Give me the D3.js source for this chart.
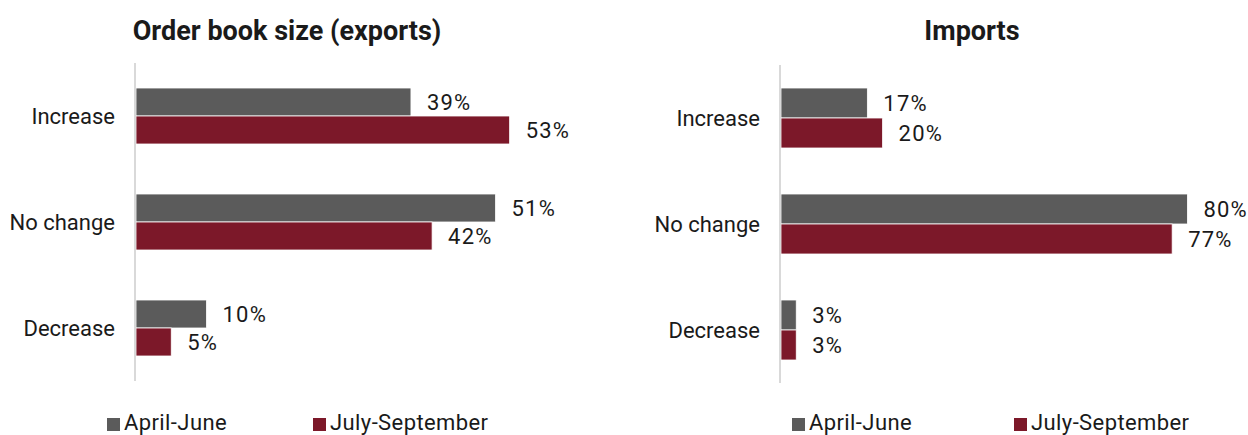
<!DOCTYPE html>
<html>
<head>
<meta charset="utf-8">
<script src="https://cdn.jsdelivr.net/npm/d3@7"></script>
<style>
  body { margin: 0; background: #fff; }
  text { font-family: Roboto, "Liberation Sans", sans-serif; fill: #1a1a1a; }
</style>
</head>
<body>
<div id="chart"></div>
<script>
// data
var categories = ["Increase", "No change", "Decrease"];
var seriesNames = ["April-June", "July-September"];
var exportsAprJun = [39, 51, 10];
var exportsJulSep = [53, 42, 5];
var importsAprJun = [17, 80, 3];
var importsJulSep = [20, 77, 3];

var colors = ["#5b5b5b", "#7c1829"];

var svgWidth = 1248;
var svgHeight = 435;

var $svg = d3
  .select("#chart")
  .append("svg")
  .attr("width", svgWidth)
  .attr("height", svgHeight);

// panel layout
var panels = [
  {
    title: "Order book size (exports)",
    titleX: 287,
    values: [exportsAprJun, exportsJulSep],
    x0: 136, pxPerPct: 7.05,
    yTop: 63, yBottom: 381,
    barH: 28,
    legendX: [107, 313]
  },
  {
    title: "Imports",
    titleX: 972,
    values: [importsAprJun, importsJulSep],
    x0: 781, pxPerPct: 5.08,
    yTop: 65, yBottom: 383,
    barH: 30,
    legendX: [792, 1014]
  }
];

panels.forEach(function(p) {
  var g = $svg.append("g");

  var x = d3.scaleLinear()
    .domain([0, 100])
    .range([p.x0, p.x0 + p.pxPerPct * 100]);

  var y = d3.scaleBand()
    .domain(categories)
    .range([p.yTop, p.yBottom]);

  var ySeries = d3.scaleBand()
    .domain(seriesNames)
    .range([0, p.barH * 2]);

  // title
  g.append("text")
    .attr("x", p.titleX)
    .attr("y", 40)
    .attr("text-anchor", "middle")
    .attr("font-size", "27px")
    .attr("font-weight", "bold")
    .attr("fill", "#262626")
    .text(p.title);

  // category labels
  g.selectAll("text.cat")
    .data(categories)
    .enter()
    .append("text")
    .classed("cat", true)
    .attr("x", p.x0 - 21)
    .attr("y", d => y(d) + y.bandwidth() / 2 + 8)
    .attr("text-anchor", "end")
    .attr("font-size", "22px")
    .text(d => d);

  // bars + value labels per series
  seriesNames.forEach(function(s, si) {
    var rows = categories.map(function(c, ci) {
      return { cat: c, value: p.values[si][ci] };
    });
    var offset = y.bandwidth() / 2 - p.barH + ySeries(s);

    g.selectAll("rect.s" + si)
      .data(rows)
      .enter()
      .append("rect")
      .classed("s" + si, true)
      .attr("x", x(0))
      .attr("y", d => y(d.cat) + offset)
      .attr("width", d => x(d.value) - x(0))
      .attr("height", ySeries.bandwidth())
      .attr("fill", colors[si])
      .attr("stroke", "#ffffff")
      .attr("stroke-width", 0.8);

    g.selectAll("text.v" + si)
      .data(rows)
      .enter()
      .append("text")
      .classed("v" + si, true)
      .attr("x", d => x(d.value) + 16)
      .attr("y", d => y(d.cat) + offset + ySeries.bandwidth() / 2 + 8)
      .attr("font-size", "22px")
      .attr("letter-spacing", "1.2px")
      .text(d => d.value + "%");

    // legend
    g.append("rect")
      .attr("x", p.legendX[si])
      .attr("y", 418)
      .attr("width", 13)
      .attr("height", 13)
      .attr("fill", colors[si]);

    g.append("text")
      .attr("x", p.legendX[si] + 17)
      .attr("y", 430)
      .attr("font-size", "22px")
      .attr("letter-spacing", "0.4px")
      .text(s);
  });

  // vertical axis line
  g.append("line")
    .attr("x1", x(0) - 1)
    .attr("x2", x(0) - 1)
    .attr("y1", p.yTop)
    .attr("y2", p.yBottom)
    .attr("stroke", "#d9d9d9")
    .attr("stroke-width", 2);
});
</script>
</body>
</html>
